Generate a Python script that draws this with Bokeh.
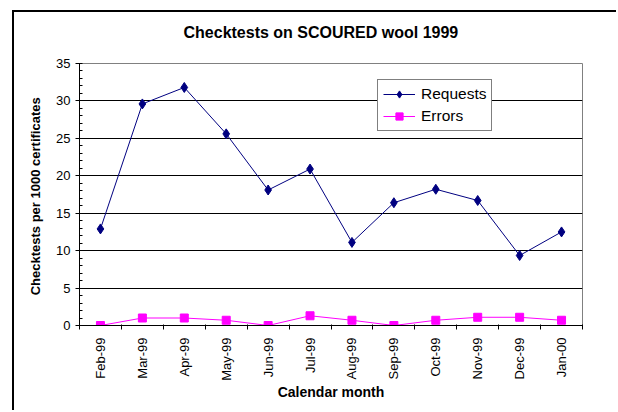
from math import pi
from bokeh.plotting import figure
from bokeh.models import (Range1d, FixedTicker, SingleIntervalTicker,
                          Legend, LegendItem, Title)
from bokeh.embed import file_html
from bokeh.resources import INLINE

months = ["Feb-99", "Mar-99", "Apr-99", "May-99", "Jun-99", "Jul-99",
          "Aug-99", "Sep-99", "Oct-99", "Nov-99", "Dec-99", "Jan-00"]
requests = [12.9, 29.6, 31.8, 25.6, 18.1, 20.9, 11.1, 16.4, 18.2, 16.7, 9.35, 12.5]
errors = [0.0, 1.0, 1.0, 0.7, 0.0, 1.3, 0.7, 0.0, 0.7, 1.1, 1.1, 0.7]
y_max = 35
y_step = 5

FONT = "Liberation Sans"

# category slots: each month sits in the middle of its slot
xpos = [i + 0.5 for i in range(len(months))]

p = figure(width=616, height=410, x_range=Range1d(0, len(months)),
           y_range=Range1d(0, y_max), output_backend="svg", toolbar_location=None,
           min_border_left=79, min_border_right=34, min_border_top=63, min_border_bottom=85)
# outer chart-area border (only its left and top edges are in view)
p.border_fill_color = None
p.styles = {"background-image": "linear-gradient(black, black), linear-gradient(black, black)",
            "background-repeat": "no-repeat",
            "background-position": "12px 10px, 12px 10px",
            "background-size": "2px 100%, 100% 2px",
            "background-color": "white"}

p.title = Title(text="Checktests on SCOURED wool 1999", align="left", vertical_align="top",
                text_font=FONT, text_font_size="16px", text_font_style="bold",
                text_color="black", offset=104, standoff=42)

p.outline_line_color = "#808080"
p.outline_line_width = 1
p.xgrid.visible = False
p.ygrid.grid_line_color = "black"
p.ygrid.grid_line_width = 1

# y axis
yax = p.yaxis[0]
yax.ticker = SingleIntervalTicker(interval=y_step, num_minor_ticks=5)
yax.major_label_text_font = FONT
yax.major_label_text_font_size = "13px"
yax.major_label_text_color = "black"
yax.axis_line_color = "black"
yax.major_tick_line_color = "black"
yax.major_tick_in = 1
yax.major_tick_out = 4
yax.minor_tick_line_color = "black"
yax.minor_tick_in = 3
yax.minor_tick_out = 0
yax.axis_label = "Checktests  per 1000 certificates"
yax.axis_label_text_font = FONT
yax.axis_label_text_font_size = "13px"
yax.axis_label_text_font_style = "bold"
yax.axis_label_text_color = "black"
yax.axis_label_standoff = 10

# x axis: month labels in the middle of each slot, tick marks between slots
xax = p.xaxis[0]
xax.ticker = FixedTicker(ticks=xpos, minor_ticks=list(range(len(months) + 1)))
xax.major_label_overrides = {x: m for x, m in zip(xpos, months)}
xax.major_tick_line_color = None
xax.major_tick_in = 0
xax.major_tick_out = 0
xax.minor_tick_line_color = "black"
xax.minor_tick_in = 1
xax.minor_tick_out = 4
xax.axis_line_color = "black"
xax.major_label_orientation = pi / 2
xax.major_label_text_font = FONT
xax.major_label_text_font_size = "13px"
xax.major_label_text_color = "black"
xax.major_label_standoff = 8
xax.axis_label = "Calendar month"
xax.axis_label_text_font = FONT
xax.axis_label_text_font_size = "14px"
xax.axis_label_text_font_style = "bold"
xax.axis_label_text_color = "black"
xax.axis_label_standoff = 0

r1l = p.line(xpos, requests, line_color="#000080", line_width=1)
r1s = p.scatter(xpos, requests, marker="diamond", size=10, fill_color="#000080",
                line_color="#000080")
r2l = p.line(xpos, errors, line_color="#FF00FF", line_width=1)
r2s = p.scatter(xpos, errors, marker="square", size=8, fill_color="#FF00FF",
                line_color="#FF00FF")

legend = Legend(items=[LegendItem(label="Requests", renderers=[r1l, r1s]),
                       LegendItem(label="Errors", renderers=[r2l, r2s])],
                location=(298, 194), label_text_font=FONT, label_text_font_size="15.5px",
                label_text_color="black", glyph_width=32, glyph_height=18, label_height=18,
                label_standoff=6, padding=5, spacing=4, border_line_color="black",
                border_line_width=1, background_fill_color="white", background_fill_alpha=1,
                margin=0)
p.add_layout(legend)

open("out.html", "w").write(file_html(p, INLINE))
